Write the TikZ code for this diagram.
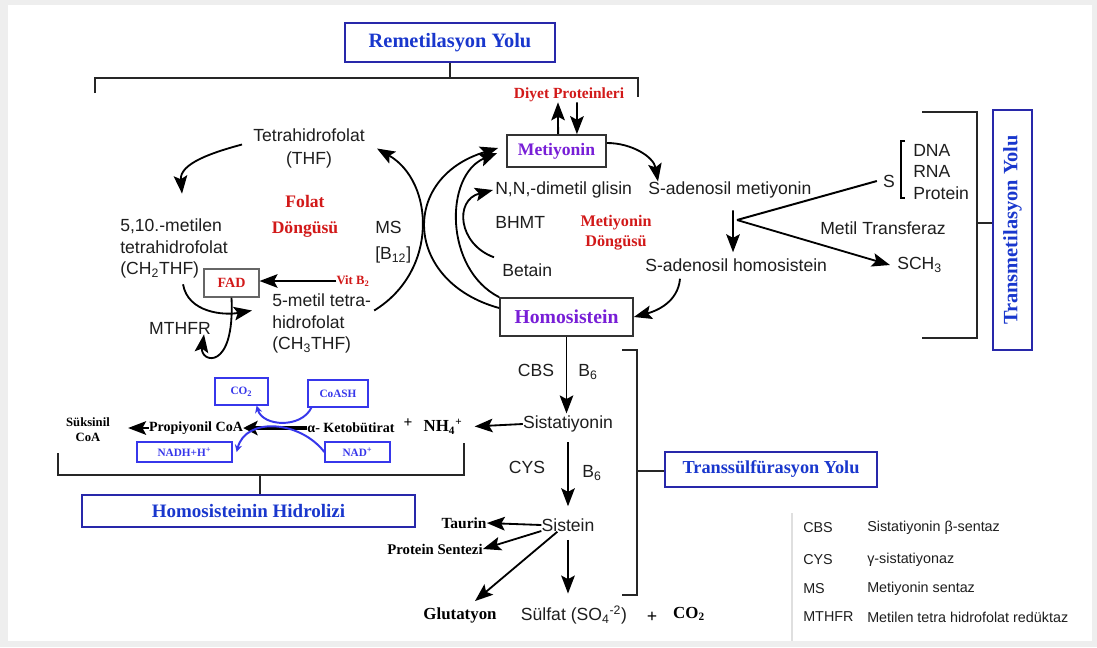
\documentclass[tikz,border=0pt]{standalone}
\usepackage{fontspec}
\setmainfont{Liberation Serif}
\setsansfont{Liberation Sans}
\usetikzlibrary{arrows.meta}
\definecolor{yolblue}{RGB}{40, 40, 170}
\definecolor{yoltext}{RGB}{25, 55, 205}
\definecolor{cyclered}{RGB}{210, 25, 25}
\definecolor{metpurple}{RGB}{120, 30, 215}
\definecolor{sideblue}{RGB}{55, 55, 235}
\definecolor{inktext}{RGB}{30, 30, 30}
\definecolor{framegray}{RGB}{238, 238, 238}

\begin{document}
\begin{tikzpicture}[x=0.025cm, y=-0.025cm,
    yolbox/.style={draw=yolblue, line width=1.3pt, text=yoltext, inner sep=0pt, font=\bfseries\fontsize{14.5}{16}\selectfont},
    metbox/.style={draw=black!80, line width=1.2pt, fill=white, text=metpurple, inner sep=0pt},
    sidebox/.style={draw=sideblue, line width=0.9pt, text=sideblue, inner sep=0pt, font=\bfseries\fontsize{8}{9}\selectfont},
    txt/.style={inner sep=0pt, text=inktext, font=\sffamily\fontsize{12.5}{15.2}\selectfont},
    redtxt/.style={inner sep=0pt, text=cyclered, align=center, font=\bfseries\fontsize{12}{14}\selectfont},
    chem/.style={inner sep=0pt, text=black, font=\bfseries\fontsize{11}{13}\selectfont},
    legtxt/.style={inner sep=0pt, anchor=west, text=inktext, font=\sffamily\fontsize{10.2}{12}\selectfont},
    arr/.style={line width=1.3pt, -{Stealth[length=4.5mm, width=3.4mm, inset=0.9mm]}},
    bluearr/.style={draw=sideblue, line width=1.4pt, -{Stealth[length=1.8mm, width=1.8mm]}},
    brk/.style={line width=1.8pt, black!85}
]
    \useasboundingbox (0,0) rectangle (1097,647);
    % Frame
    \fill[framegray] (0,0) rectangle (1097,647);
    \fill[white] (8,5) rectangle (1092,641);

    % Pathway headings
    \node[yolbox, minimum width=5.25cm, minimum height=0.975cm] (remet) at (450,42.5) {Remetilasyon Yolu};
    \node[yolbox, rotate=90, minimum width=6cm, minimum height=0.975cm] (transmet) at (1012.5,230) {Transmetilasyon Yolu};
    \node[yolbox, minimum width=5.3cm, minimum height=0.875cm, font=\bfseries\fontsize{13}{15}\selectfont] (transsulf) at (771,469.5) {Transsülfürasyon Yolu};
    \node[yolbox, minimum width=8.325cm, minimum height=0.8cm, font=\bfseries\fontsize{13.5}{15}\selectfont] (hidroliz) at (248.5,511) {Homosisteinin Hidrolizi};

    % Brackets
    \coordinate (remetbar) at (456,78);
    \draw[brk] (95,93) |- (638,78) -- (638,97);
    \draw[brk] (remet.south) -- (remet.south |- remetbar);
    \coordinate (tmbar) at (977,223);
    \draw[brk] (922,112) -| (977,338) -- (922,338);
    \draw[brk] (tmbar) -- (tmbar -| transmet.north);
    \coordinate (tsbar) at (637,471);
    \draw[brk] (622,350) -| (637,595) -- (622,595);
    \draw[brk] (tsbar) -- (tsbar -| transsulf.west);
    \coordinate (hzbar) at (260,475);
    \draw[brk] (58,453) |- (464,475) -- (464,443);
    \draw[brk] (hzbar) -- (hzbar |- hidroliz.north);

    % Methionine cycle
    \node[metbox, minimum width=2.475cm, minimum height=0.8cm, font=\bfseries\fontsize{12.5}{14}\selectfont] (met) at (556.5,151) {Metiyonin};
    \node[metbox, minimum width=3.325cm, minimum height=0.95cm, font=\bfseries\fontsize{14}{16}\selectfont] (homo) at (566.5,317) {Homosistein};
    \node[redtxt, font=\bfseries\fontsize{11}{13}\selectfont] (diyet) at (569,95) {Diyet Proteinleri};
    \node[txt, anchor=west] (dmg) at (495,190) {N,N,-dimetil glisin};
    \node[txt, anchor=west] (bhmt) at (495,222) {BHMT};
    \node[redtxt, font=\bfseries\fontsize{11.5}{14.2}\selectfont] (metcyc) at (616,233) {Metiyonin\\Döngüsü};
    \node[txt, anchor=west] (betain) at (502,270) {Betain};
    \node[txt, anchor=west] (sam) at (648,190) {S-adenosil metiyonin};
    \node[txt, anchor=west] (sah) at (645,265) {S-adenosil homosistein};

    % Transmethylation
    \node[txt] (sgrp) at (889,181) {S};
    \draw[line width=0.8pt] (905,141) -- (901,141) -- (901,198) -- (905,198);
    \node[txt, anchor=west, align=left] (targets) at (913,172) {DNA\\RNA\\Protein};
    \node[txt, anchor=west] (mtrans) at (820,228) {Metil Transferaz};
    \node[txt, anchor=west] (sch) at (897,265) {SCH\textsubscript{3}};
    \coordinate (fork) at (737,220);

    % Folate cycle
    \node[txt, align=center, font=\sffamily\fontsize{12.5}{16.3}\selectfont] (thf) at (309,148.5) {Tetrahidrofolat\\(THF)};
    \node[redtxt, font=\bfseries\fontsize{12.5}{18.4}\selectfont] (folcyc) at (305,216) {Folat\\Döngüsü};
    \node[txt, anchor=west, align=left] (ch2thf) at (120,248.5) {5,10.-metilen\\tetrahidrofolat\\(CH\textsubscript{2}THF)};
    \node[txt, anchor=west, align=left, font=\sffamily\fontsize{12.5}{18.4}\selectfont] (ms) at (375,242) {MS\\{[}B\textsubscript{12}{]}};
    \node[txt, anchor=west, align=left] (ch3thf) at (272,323.5) {5-metil tetra-\\hidrofolat\\(CH\textsubscript{3}THF)};
    \node[metbox, text=cyclered, draw=black!60, line width=0.8pt, minimum width=1.375cm, minimum height=0.7cm, font=\bfseries\fontsize{10}{12}\selectfont] (fad) at (231.5,283) {FAD};
    \node[redtxt, font=\bfseries\fontsize{9}{11}\selectfont] (vitb) at (353,281) {Vit B\textsubscript{2}};
    \node[txt] (mthfr) at (180,328) {MTHFR};

    % Transsulfuration
    \node[txt] (cbs) at (536,370) {CBS};
    \node[txt] (bsixa) at (588,372) {B\textsubscript{6}};
    \node[txt] (sistat) at (568,424) {Sistatiyonin};
    \node[txt] (cys) at (527,467) {CYS};
    \node[txt] (bsixb) at (592,473) {B\textsubscript{6}};
    \node[txt] (sistein) at (568,525) {Sistein};
    \node[chem] (taurin) at (464,523) {Taurin};
    \node[chem, font=\bfseries\fontsize{10.5}{12}\selectfont] (protsent) at (435,549) {Protein Sentezi};
    \node[chem, font=\bfseries\fontsize{12}{14}\selectfont] (glut) at (460,615) {Glutatyon};
    \node[txt] (sulfat) at (574,615) {Sülfat (SO\textsubscript{4}\textsuperscript{-2})};
    \node[chem, font=\bfseries\fontsize{13}{14}\selectfont] (plustwo) at (652,617) {+};
    \node[chem, font=\bfseries\fontsize{12}{14}\selectfont] (cotwob) at (689,614) {CO\textsubscript{2}};
    \node[chem, font=\bfseries\fontsize{12}{14}\selectfont] (nh4) at (443,427) {NH\textsubscript{4}\textsuperscript{+}};
    \node[chem] (plusone) at (408,423) {+};

    % Hydrolysis
    \node[chem, align=center, font=\bfseries\fontsize{9}{10.6}\selectfont] (suks) at (88,430) {Süksinil\\CoA};
    \node[chem, font=\bfseries\fontsize{10}{12}\selectfont] (propcoa) at (196,428) {Propiyonil CoA};
    \node[chem, font=\bfseries\fontsize{10}{12}\selectfont] (keto) at (351,428) {α- Ketobütirat};
    \node[sidebox, minimum width=1.325cm, minimum height=0.675cm] (cotwo) at (241.5,391.5) {CO\textsubscript{2}};
    \node[sidebox, minimum width=1.5cm, minimum height=0.675cm] (coash) at (338,393.5) {CoASH};
    \node[sidebox, minimum width=2.375cm, minimum height=0.5cm] (nadh) at (184.5,452) {NADH+H\textsuperscript{+}};
    \node[sidebox, minimum width=1.625cm, minimum height=0.5cm] (nad) at (357.5,452) {NAD\textsuperscript{+}};

    % Legend
    \draw[gray!25, line width=0.8pt] (792,513) -- (792,641);
    \node[legtxt] (lcbs) at (803,528) {CBS};
    \node[legtxt] (lcbsname) at (867,528) {Sistatiyonin β-sentaz};
    \node[legtxt] (lcys) at (803,560) {CYS};
    \node[legtxt] (lcysname) at (867,560) {γ-sistatiyonaz};
    \node[legtxt] (lms) at (803,589) {MS};
    \node[legtxt] (lmsname) at (867,589) {Metiyonin sentaz};
    \node[legtxt] (lmthfr) at (803,617) {MTHFR};
    \node[legtxt] (lmthfrname) at (867,617) {Metilen tetra hidrofolat redüktaz};

    % Connections: methionine cycle
    \draw[arr] ([xshift=0.04cm]met.north) -- ([xshift=-0.275cm]diyet.south);
    \draw[arr] ([xshift=0.2cm]diyet.south) -- ([xshift=0.51cm]met.north);
    \draw[arr] ([yshift=0.2cm]met.east) to[out=0, in=100] ([xshift=0.25cm]sam.north west);
    \draw[arr] ([xshift=2.125cm, yshift=-0.3cm]sam.south west) -- ([xshift=2.2cm, yshift=0.15cm]sah.north west);
    \draw[arr] ([xshift=0.875cm, yshift=-0.175cm]sah.south west) to[out=-95, in=15] (homo.east);
    \draw[arr] ([yshift=0.225cm]homo.west) .. controls +(-95,-26) and +(-99,30) .. ([xshift=-0.2cm, yshift=0.075cm]met.west);
    \draw[arr] (homo.north west) .. controls +(-55,-28) and +(-53,22) .. ([xshift=-0.225cm, yshift=-0.05cm]met.west);
    \draw[arr] ([xshift=-0.2cm, yshift=0.15cm]betain.north west) .. controls +(-36,-13) and +(-39,10) .. ([xshift=-0.05cm]dmg.west);
    \draw[line width=1.4pt] (fork) -- ([xshift=-0.15cm]sgrp.west);
    \draw[arr] (fork) -- ([xshift=-0.175cm]sch.west);

    % Connections: folate cycle
    \draw[arr] ([xshift=0.075cm, yshift=0.325cm]ch3thf.east) .. controls +(65,-40) and +(57,33) .. ([xshift=0.3cm]thf.east);
    \draw[arr] ([xshift=-0.275cm, yshift=0.1cm]thf.west) to[out=195, in=95] ([xshift=0.2cm, yshift=0.625cm]ch2thf.north);
    \draw[arr] ([xshift=0.225cm, yshift=-0.15cm]ch2thf.south) to[out=-80, in=190] ([xshift=-0.5cm, yshift=0.325cm]ch3thf.west);
    \draw[arr] (fad.south) .. controls +(3.5,75) and +(-4,28) .. ([xshift=0.6cm]mthfr.south);
    \draw[arr] (vitb.west) -- (vitb.west -| fad.east);

    % Connections: transsulfuration
    \draw[arr, shorten >=1.5pt] (homo.south) -- (homo.south |- sistat.north);
    \draw[arr, shorten >=0.3cm] (sistat.west) -- (nh4.east);
    \draw[arr, shorten <=0.25cm, shorten >=0.3cm] (sistat.south) -- (sistat.south |- sistein.north);
    \draw[arr] (sistein.west) -- (taurin.east);
    \draw[arr] ([yshift=-0.15cm]sistein.west) -- (protsent.east);
    \draw[arr] ([xshift=0.4cm]sistein.south west) -- ([xshift=0.375cm, yshift=0.15cm]glut.north);
    \draw[arr, shorten <=0.2cm, shorten >=0.3cm] (sistein.south) -- (sistein.south |- sulfat.north);

    % Connections: hydrolysis
    \draw[line width=2.4pt, -{Stealth[length=3.6mm, width=3.6mm, inset=0.8mm]}] (keto.west) -- (propcoa.east);
    \draw[arr, shorten >=0.45cm] (propcoa.west) -- (propcoa.west -| suks.east);
    \draw[bluearr] ([xshift=0.1cm]coash.south west) .. controls +(-10,21) and +(6,21) .. ([xshift=-0.3cm]cotwo.south east);
    \draw[bluearr] (nad.west) .. controls +(-25,-32) and +(9,-35) .. ([xshift=0.1cm]nadh.east);
\end{tikzpicture}
\end{document}
